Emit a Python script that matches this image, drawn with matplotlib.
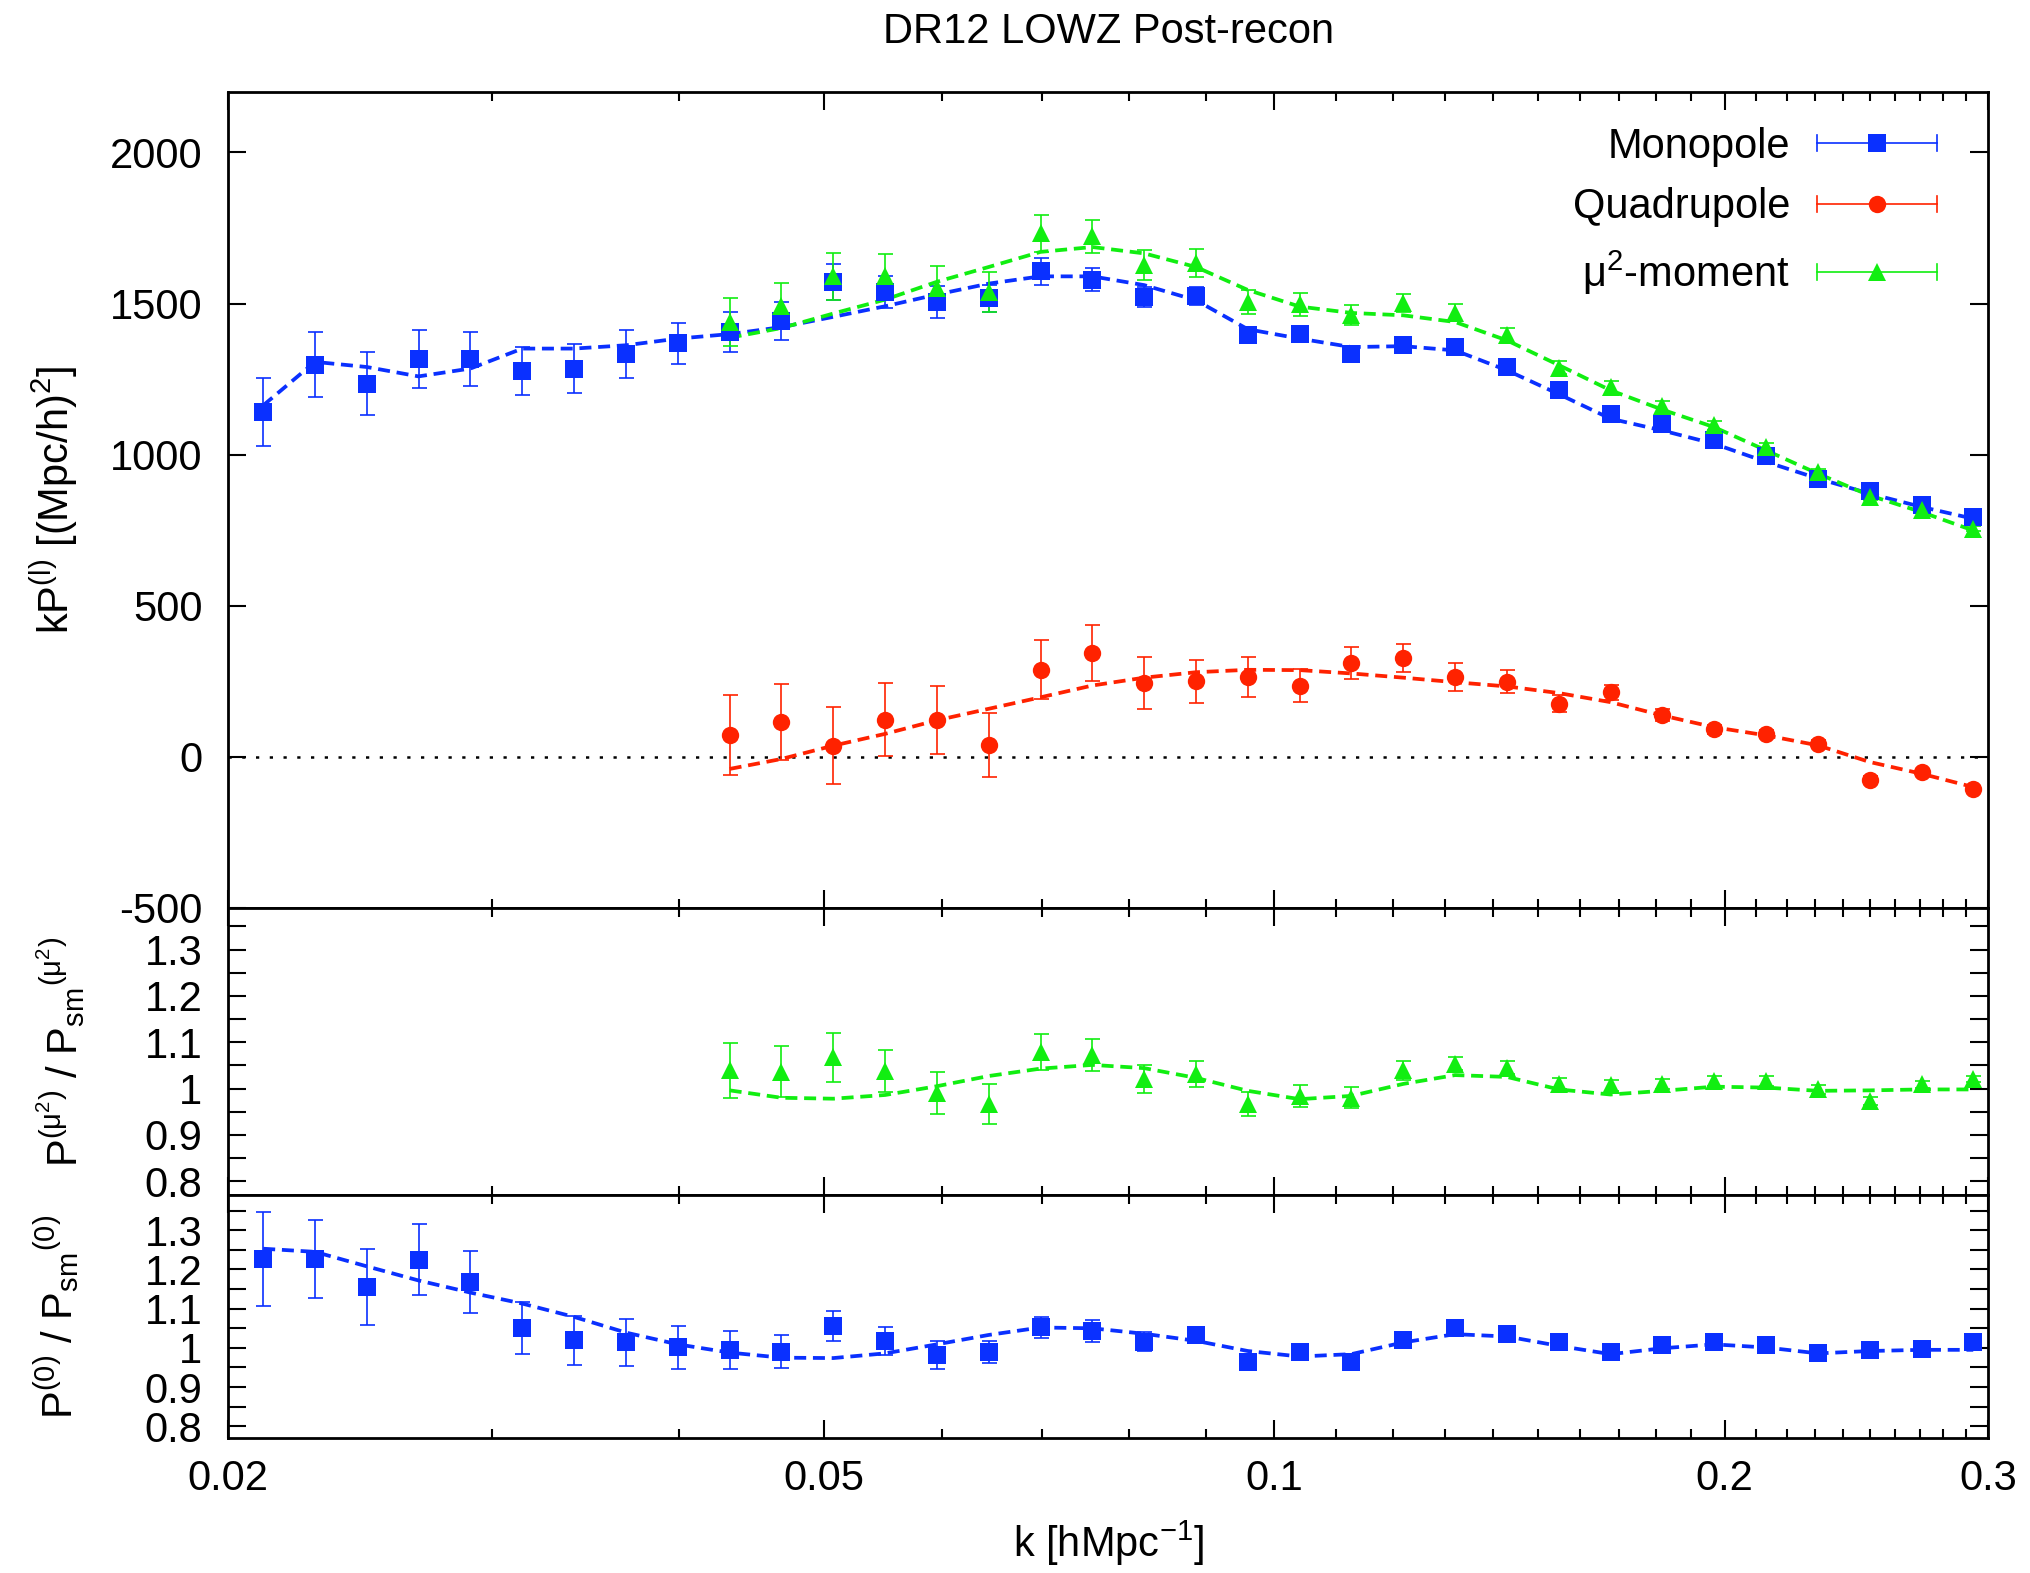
import matplotlib
matplotlib.use("Agg")
import matplotlib.pyplot as plt
from matplotlib.lines import Line2D
from matplotlib.legend_handler import HandlerBase
from matplotlib.ticker import FixedLocator, NullFormatter

plt.rcParams['font.family'] = ['Liberation Sans', 'DejaVu Sans']
plt.rcParams['mathtext.default'] = 'regular'
plt.rcParams['font.size'] = 30
plt.rcParams['axes.unicode_minus'] = False

# ---------------- data ----------------
k = [0.02111, 0.02286, 0.02476, 0.02681, 0.02904, 0.03145, 0.03406, 0.03689,
     0.03995, 0.04327, 0.04686, 0.05075, 0.05496, 0.05952, 0.06446, 0.06981,
     0.07560, 0.08188, 0.08867, 0.09603, 0.1040, 0.1126, 0.1220, 0.1321,
     0.1431, 0.1550, 0.1678, 0.1817, 0.1968, 0.2132, 0.2309, 0.2500, 0.2708,
     0.2932]
k_q = k[9:]  # quadrupole / mu^2 start at the 10th bin

mono = [1141, 1298, 1235, 1318, 1316, 1276, 1285, 1334, 1368, 1405, 1443, 1572,
        1538, 1505, 1517, 1607, 1579, 1522, 1524, 1395, 1398, 1332, 1362, 1356,
        1290, 1213, 1133, 1103, 1050, 995, 921, 880, 832, 793]
mono_err = [113, 108, 105, 96, 90, 80, 80, 79, 68, 66, 63, 59, 52, 52, 45, 44, 39,
            33, 30, 27, 25, 23, 22, 21, 19, 17, 15, 14, 13, 12, 11, 10, 9, 8]
mono_fit = [1163, 1307, 1290, 1259, 1285, 1351, 1351, 1362, 1384, 1399, 1422, 1456,
            1491, 1530, 1566, 1590, 1590, 1561, 1511, 1415, 1384, 1356, 1359, 1345,
            1279, 1200, 1119, 1080, 1036, 976, 921, 871, 827, 788]

quad = [73, 115, 37, 123, 121, 40, 289, 343, 244, 250, 264, 235, 311, 327, 264,
        249, 176, 214, 137, 91, 77, 43, -75, -51, -106]
quad_err = [133, 125, 127, 120, 112, 106, 98, 92, 85, 72, 65, 55, 52, 47, 45, 39,
            28, 25, 20, 15, 13, 12, 10, 8, 8]
quad_fit = [-40, -7, 37, 76, 121, 159, 197, 236, 262, 280, 288, 287, 276, 262,
            247, 233, 211, 181, 137, 98, 71, 38, -17, -56, -100]

mu2 = [1439, 1491, 1590, 1590, 1553, 1538, 1732, 1723, 1627, 1634, 1505, 1497,
       1461, 1502, 1469, 1395, 1288, 1224, 1160, 1097, 1025, 942, 860, 816, 755]
mu2_err = [80, 76, 78, 75, 70, 67, 60, 55, 50, 45, 40, 37, 33, 30, 28, 25, 22, 20,
           18, 16, 14, 12, 11, 10, 9]
mu2_fit = [1387, 1419, 1467, 1513, 1572, 1621, 1671, 1687, 1666, 1621, 1545, 1490,
           1469, 1461, 1439, 1378, 1296, 1213, 1149, 1091, 1014, 937, 865, 810, 749]

# ratios to the smooth (no-wiggle) model
r_mu2 = [1.039, 1.036, 1.067, 1.038, 0.991, 0.967, 1.079, 1.072, 1.020, 1.031,
         0.967, 0.984, 0.980, 1.039, 1.054, 1.045, 1.010, 1.007, 1.010, 1.016,
         1.016, 0.998, 0.973, 1.009, 1.020]
r_mu2_err = [0.060, 0.055, 0.052, 0.046, 0.045, 0.043, 0.038, 0.034, 0.030, 0.028,
             0.026, 0.024, 0.023, 0.020, 0.015, 0.014, 0.012, 0.012, 0.011, 0.010,
             0.010, 0.009, 0.008, 0.008, 0.007]
r_mu2_fit = [0.996, 0.980, 0.978, 0.986, 1.005, 1.027, 1.043, 1.051, 1.044, 1.023,
             0.995, 0.977, 0.984, 1.010, 1.029, 1.025, 0.998, 0.987, 0.995, 1.004,
             1.002, 0.995, 0.996, 0.998, 0.998]

r_mono = [1.227, 1.227, 1.155, 1.225, 1.168, 1.050, 1.019, 1.014, 1.001, 0.995,
          0.990, 1.056, 1.018, 0.982, 0.990, 1.052, 1.043, 1.016, 1.033, 0.965,
          0.990, 0.965, 1.019, 1.050, 1.036, 1.014, 0.990, 1.008, 1.014, 1.008,
          0.986, 0.994, 0.998, 1.014]
r_mono_err = [0.12, 0.10, 0.097, 0.09, 0.08, 0.066, 0.063, 0.06, 0.054, 0.048,
              0.042, 0.039, 0.035, 0.035, 0.028, 0.028, 0.027, 0.025, 0.02, 0.019,
              0.018, 0.017, 0.016, 0.015, 0.014, 0.013, 0.012, 0.011, 0.010, 0.010,
              0.009, 0.009, 0.008, 0.008]
r_mono_fit = [1.253, 1.245, 1.208, 1.172, 1.141, 1.113, 1.079, 1.039, 1.009, 0.988,
              0.975, 0.974, 0.986, 1.009, 1.033, 1.052, 1.050, 1.036, 1.018, 0.992,
              0.978, 0.984, 1.014, 1.035, 1.029, 1.005, 0.984, 0.999, 1.009, 1.001,
              0.986, 0.992, 0.995, 0.995]

xmajor = [0.02, 0.05, 0.1, 0.2, 0.3]
xmajor_lab = ['0.02', '0.05', '0.1', '0.2', '0.3']
xminor = [0.03, 0.04, 0.06, 0.07, 0.08, 0.09] + [0.11, 0.12, 0.13, 0.14, 0.15, 0.16,
          0.17, 0.18, 0.19] + [0.21, 0.22, 0.23, 0.24, 0.25, 0.26, 0.27, 0.28, 0.29]
ytop = [-500, 0, 500, 1000, 1500, 2000]
yrat = [0.8, 0.9, 1.0, 1.1, 1.2, 1.3]
yrat_lab = ['0.8', '0.9', '1', '1.1', '1.2', '1.3']
yrat_minor = [0.85, 0.95, 1.05, 1.15, 1.25, 1.35]

BLUE = '#0a30ff'
RED = '#ff2200'
GREEN = '#11ee11'

MS_SQ, MS_CI, MS_TR = 13, 12.5, 12.5
EB = dict(elinewidth=1.2, capsize=5.4, capthick=1.2, ls='none')
FIT = dict(lw=2.7, dashes=(3.2, 1.8))


def points(ax, x, y, e, fmt, ms, color):
    cont = ax.errorbar(x, y, yerr=e, fmt=fmt, ms=ms, color=color, **EB)
    cont[0].set_markeredgewidth(0)  # flat symbols, caps keep capthick
    return cont


class KeySample(HandlerBase):
    # gnuplot style key: |----symbol----|
    def create_artists(self, legend, orig_handle, xdescent, ydescent, width, height,
                       fontsize, trans):
        c = orig_handle.get_color()
        y = height / 2 - ydescent
        x0, x1 = -xdescent, width - xdescent
        cap = 5.8
        arts = [Line2D([x0, x1], [y, y], color=c, lw=1.2),
                Line2D([x0, x0], [y - cap, y + cap], color=c, lw=1.2),
                Line2D([x1, x1], [y - cap, y + cap], color=c, lw=1.2),
                Line2D([(x0 + x1) / 2], [y], marker=orig_handle.get_marker(),
                       ms=orig_handle.get_markersize(), color=c, mew=0, ls='none')]
        for a in arts:
            a.set_transform(trans)
        return arts


def style(ax):
    ax.set_xscale('log')
    ax.set_xlim(0.02, 0.3)
    ax.xaxis.set_major_locator(FixedLocator(xmajor))
    ax.xaxis.set_minor_locator(FixedLocator(xminor))
    ax.xaxis.set_minor_formatter(NullFormatter())
    ax.set_xticklabels(xmajor_lab)
    ax.tick_params(which='both', direction='in', top=True, right=True, width=1.5)
    ax.tick_params(which='major', length=13)
    ax.tick_params(which='minor', length=6.5)
    ax.tick_params(axis='y', pad=18.5)
    ax.tick_params(axis='x', pad=15)
    for s in ax.spines.values():
        s.set_linewidth(2)


fig = plt.figure(figsize=(20.31, 15.73), dpi=100)
ax1 = fig.add_axes([0.1123, 0.4228, 0.8666, 0.5187])
ax2 = fig.add_axes([0.1123, 0.2403, 0.8666, 0.1825])
ax3 = fig.add_axes([0.1123, 0.0858, 0.8666, 0.1545])

# ---- top panel ----
style(ax1)
ax1.axhline(0, color='black', lw=1.8, linestyle=(0, (1.3, 4.2)), zorder=1)
points(ax1, k, mono, mono_err, 's', MS_SQ, BLUE)
ax1.plot(k, mono_fit, color=BLUE, **FIT)
points(ax1, k_q, quad, quad_err, 'o', MS_CI, RED)
ax1.plot(k_q, quad_fit, color=RED, **FIT)
points(ax1, k_q, mu2, mu2_err, '^', MS_TR, GREEN)
ax1.plot(k_q, mu2_fit, color=GREEN, **FIT)
ax1.set_ylim(-500, 2200)
ax1.set_yticks(ytop)
ax1.tick_params(labelbottom=False)
ax1.set_ylabel('kP$^{(l)}$ [(Mpc/h)$^2$]')
ax1.yaxis.set_label_coords(-0.084, 0.5)
ax1.set_title('DR12 LOWZ Post-recon', pad=35, fontsize=30)

handles = [Line2D([], [], color=BLUE, marker='s', ms=MS_SQ),
           Line2D([], [], color=RED, marker='o', ms=MS_CI),
           Line2D([], [], color=GREEN, marker='^', ms=MS_TR)]
labels = ['Monopole', 'Quadrupole', 'μ$^2$-moment']
ax1.legend(handles, labels, handler_map={Line2D: KeySample()}, loc='upper right',
           bbox_to_anchor=(0.9707, 0.9577), frameon=False, markerfirst=False,
           handlelength=2.87, handletextpad=0.65, labelspacing=0.5,
           borderpad=0, borderaxespad=0, fontsize=30)

# ---- mu^2 ratio ----
style(ax2)
points(ax2, k_q, r_mu2, r_mu2_err, '^', MS_TR, GREEN)
ax2.plot(k_q, r_mu2_fit, color=GREEN, **FIT)
ax2.set_ylim(0.77, 1.39)
ax2.set_yticks(yrat, yrat_lab)
ax2.yaxis.set_minor_locator(FixedLocator(yrat_minor))
ax2.tick_params(axis='y', which='minor', length=13)
ax2.tick_params(labelbottom=False)
ax2.set_ylabel('P$^{(μ^2)}$ / P$_{sm}{}^{(μ^2)}$')
ax2.yaxis.set_label_coords(-0.080, 0.5)

# ---- monopole ratio ----
style(ax3)
points(ax3, k, r_mono, r_mono_err, 's', MS_SQ, BLUE)
ax3.plot(k, r_mono_fit, color=BLUE, **FIT)
ax3.set_ylim(0.77, 1.39)
ax3.set_yticks(yrat, yrat_lab)
ax3.yaxis.set_minor_locator(FixedLocator(yrat_minor))
ax3.tick_params(axis='y', which='minor', length=13)
ax3.set_ylabel('P$^{(0)}$ / P$_{sm}{}^{(0)}$')
ax3.yaxis.set_label_coords(-0.083, 0.5)
ax3.set_xlabel('k [hMpc$^{-1}$]', labelpad=14)

fig.savefig('out.png', dpi=100)
